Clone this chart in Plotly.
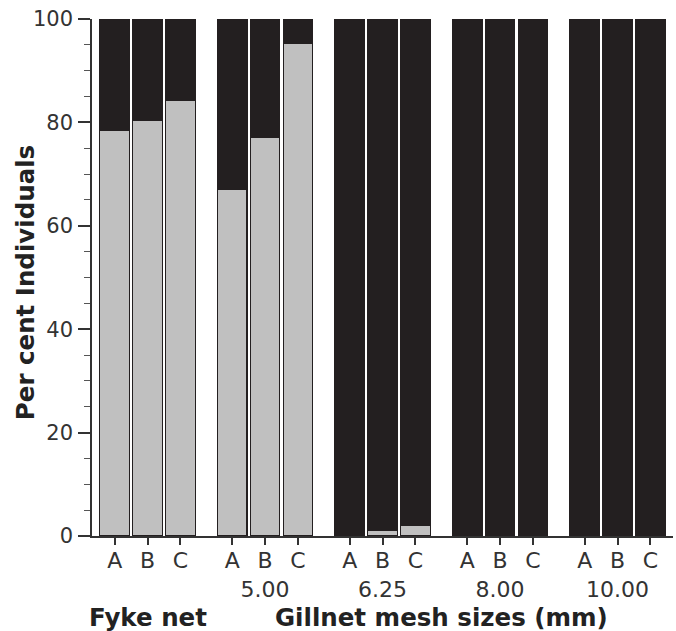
import plotly.graph_objects as go

# ---- data ----
groups = ["Fyke", "5.00", "6.25", "8.00", "10.00"]
sites = ["A", "B", "C"]
# per cent of individuals in light (grey) category, per group x site
grey_pct = [
    [78.5, 80.4, 84.2],   # Fyke net
    [67.0, 77.1, 95.3],   # Gillnet 5.00
    [0.0, 1.0, 2.0],      # Gillnet 6.25
    [0.0, 0.0, 0.0],      # Gillnet 8.00
    [0.0, 0.0, 0.0],      # Gillnet 10.00
]
group_labels = ["", "5.00", "6.25", "8.00", "10.00"]
y_ticks = [0, 20, 40, 60, 80, 100]

# ---- layout helpers ----
GROUP_STEP = 3.576
xs, grey, black, ticktext = [], [], [], []
for g, vals in enumerate(grey_pct):
    for j, v in enumerate(vals):
        xs.append(g * GROUP_STEP + j)
        grey.append(v)
        black.append(100 - v)
        lab = sites[j]
        if j == 1 and group_labels[g]:
            lab = sites[j] + "<br>" + group_labels[g]
        ticktext.append(lab)

GREY = "#c0c0c0"
BLACK = "#231f20"
FONT = "DejaVu Sans, Verdana, sans-serif"

fig = go.Figure()
fig.add_trace(go.Bar(x=xs, y=grey, width=0.9, marker=dict(color=GREY, line=dict(color=BLACK, width=1.2)),
                     showlegend=False, hoverinfo="skip"))
fig.add_trace(go.Bar(x=xs, y=black, width=0.9, marker=dict(color=BLACK, line=dict(color=BLACK, width=1.2)),
                     showlegend=False, hoverinfo="skip"))

fig.update_layout(
    barmode="stack",
    width=676, height=631,
    margin=dict(l=92, r=3, t=19, b=95),
    plot_bgcolor="white", paper_bgcolor="white",
    font=dict(family=FONT, size=20, color="#333333"),
    xaxis=dict(
        range=[-0.69, 16.99],
        tickmode="array", tickvals=xs, ticktext=ticktext, tickangle=0,
        ticks="outside", ticklen=7, tickwidth=1.5, tickcolor="#333333",
        showline=True, linecolor="#333333", linewidth=1.5,
        showgrid=False, zeroline=False,
        tickfont=dict(size=22, color="#333333"),
        ticklabelstandoff=-3,
    ),
    yaxis=dict(
        range=[0, 100],
        tickmode="array", tickvals=y_ticks,
        ticks="outside", ticklen=12, tickwidth=1.5, tickcolor="#333333",
        minor=dict(dtick=5, ticks="outside", ticklen=6, tickwidth=1.2, tickcolor="#555555"),
        showline=True, linecolor="#333333", linewidth=1.5,
        showgrid=False, zeroline=False,
        tickfont=dict(size=21, color="#333333"),
        ticklabelstandoff=1,
    ),
)

fig.add_annotation(text="<b>Per cent Individuals</b>", xref="paper", yref="paper",
                   x=-0.1153, y=0.489, textangle=-90, showarrow=False,
                   xanchor="center", yanchor="middle",
                   font=dict(family=FONT, size=24.5, color="#222222"))
fig.add_annotation(text="<b>Fyke net</b>", xref="x", yref="paper",
                   x=1.0, y=-0.157, showarrow=False, xanchor="center", yanchor="middle",
                   font=dict(family=FONT, size=24.5, color="#222222"))
fig.add_annotation(text="<b>Gillnet mesh sizes (mm)</b>", xref="x", yref="paper",
                   x=(GROUP_STEP + 4 * GROUP_STEP + 2) / 2, y=-0.157, showarrow=False,
                   xanchor="center", yanchor="middle",
                   font=dict(family=FONT, size=24.5, color="#222222"))

fig.write_html("out.html")
